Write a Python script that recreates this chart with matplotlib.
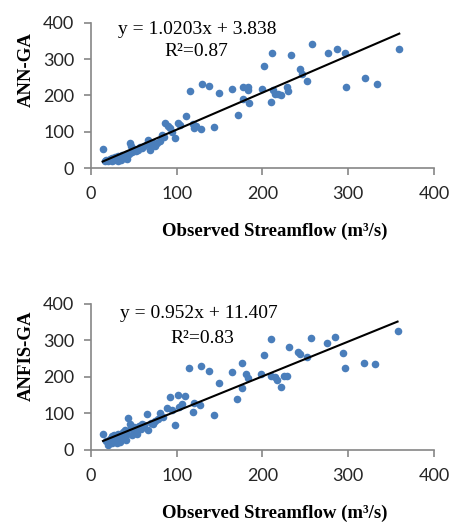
import numpy as np
import matplotlib.pyplot as plt

# ANN-GA: observed vs predicted streamflow (m3/s)
ann_obs = [13.6, 16, 18, 20, 22, 24, 25, 27, 28, 30, 31, 32, 34, 35, 36, 38, 40, 41, 42, 44,
           45.5, 47, 48, 50, 52, 55, 57, 60, 62, 65, 66.9, 68.8, 70, 72, 75, 76.6, 80, 82.4, 85,
           86.3, 89.7, 92, 95, 98, 101.8, 104, 110.8, 115.4, 119.3, 120, 122, 128.3, 129, 137.6,
           143.4, 149.6, 164.4, 171, 176.9, 176.9, 183.5, 184.6, 183, 199.8, 202, 209.5, 211.4,
           212, 215, 218, 222, 228, 229.5, 232.9, 243.7, 245.5, 252.3, 257.3, 276, 286.4, 296.2,
           296.9, 319.5, 333.9, 359.5]
ann_pred = [51.6, 20, 22, 18, 25, 20, 28, 22, 30, 25, 18, 33, 27, 22, 35, 30, 28, 38, 25, 40,
            70, 60, 45, 52, 48, 50, 58, 55, 62, 65, 77, 50, 60, 70, 62, 68, 75, 91, 85,
            125, 117, 110, 100, 84, 123, 118, 144, 212, 121, 110, 115, 107, 232, 226,
            114, 208, 218, 146, 222.6, 190, 223, 178, 215, 218, 281, 183, 318,
            215, 205, 203, 200, 222.6, 213, 313, 273, 260, 240, 342, 318, 327, 316,
            222.6, 247, 231, 327]

# ANFIS-GA
anfis_obs = [14, 18, 20, 22, 24, 25, 27, 28, 30, 31, 33, 34, 36, 37, 38, 40, 41, 42, 43.6, 45,
             47, 48, 50, 52, 54, 56, 58, 60, 62, 65, 67, 70, 72, 75, 78, 80.7, 84, 89, 91.6, 95,
             98, 101, 103, 106, 110, 113.8, 119, 120.5, 127.5, 128.6, 137.2, 143.8, 149.7, 164,
             170.7, 176, 176, 181, 183.5, 198.8, 202.3, 210.5, 210.5, 214, 217, 221.8, 225, 229,
             231, 241.7, 243.6, 252.2, 256, 274.8, 284.6, 294.4, 296.3, 317.8, 331.4, 357.5]
anfis_pred = [44, 25, 14, 30, 38, 20, 40, 25, 18, 45, 30, 22, 40, 50, 32, 55, 28, 45, 87, 70,
              60, 40, 62, 50, 45, 65, 58, 72, 68, 98, 55, 75, 70, 80, 85, 100, 90, 114, 144, 110,
              68, 152, 118, 125, 149, 224, 103, 130, 123, 230, 217, 96, 184, 214.5,
              139, 239, 171, 208, 198, 208, 260, 303, 203, 200, 192, 173, 203, 203,
              281, 269, 262, 256, 307.7, 294, 310, 265, 224, 237.5, 235, 327]

panels = [
    ("ANN-GA", ann_obs, ann_pred, 1.0203, 3.838, "y = 1.0203x + 3.838", "R²=0.87"),
    ("ANFIS-GA", anfis_obs, anfis_pred, 0.952, 11.407, "y = 0.952x + 11.407", "R²=0.83"),
]

fig = plt.figure(figsize=(4.7, 5.26), dpi=100)
rects = [[0.1936, 0.6806, 0.7298, 0.2757], [0.1936, 0.1445, 0.7298, 0.2776]]
text_pos = [((31.5, 381), (86, 321), 0.68), ((34, 373), (93, 305), 0.644)]

for rect, (name, obs, pred, slope, icpt, eq, r2), (eqp, r2p, yl_y) in zip(rects, panels, text_pos):
    ax = fig.add_axes(rect)
    ax.scatter(obs, pred, s=30, color='#4a7ebb', zorder=2, linewidths=0)
    xs = np.array([min(obs), max(obs)])
    ax.plot(xs, slope * xs + icpt, color='black', lw=1.5, zorder=3)
    ax.set_xlim(0, 400)
    ax.set_ylim(0, 400)
    ax.set_xticks([0, 100, 200, 300, 400])
    ax.set_yticks([0, 100, 200, 300, 400])
    for s in ['top', 'right']:
        ax.spines[s].set_visible(False)
    for s in ['left', 'bottom']:
        ax.spines[s].set_color('#868686')
        ax.spines[s].set_linewidth(1.2)
    ax.tick_params(colors='#868686', labelcolor='#262626', length=5, width=1.2)
    ax.tick_params(axis='x', pad=8)
    ax.tick_params(axis='y', pad=7)
    for lab in ax.get_xticklabels() + ax.get_yticklabels():
        lab.set_family('Lato')
        lab.set_fontsize(13)
    ax.text(eqp[0], eqp[1], eq, family='Liberation Serif', fontsize=14, va='center')
    ax.text(r2p[0], r2p[1], r2, family='Liberation Serif', fontsize=14, va='center')
    ax.set_ylabel(name, family='Liberation Serif', fontweight='bold', fontsize=13.5,
                  va='center')
    ax.yaxis.set_label_coords(-0.19, yl_y)
    ax.set_xlabel('Observed Streamflow (m³/s)', family='Liberation Serif',
                  fontweight='bold', fontsize=13.5, va='center')
    ax.xaxis.set_label_coords(0.536, -0.435)

fig.savefig('out.png', dpi=100)
